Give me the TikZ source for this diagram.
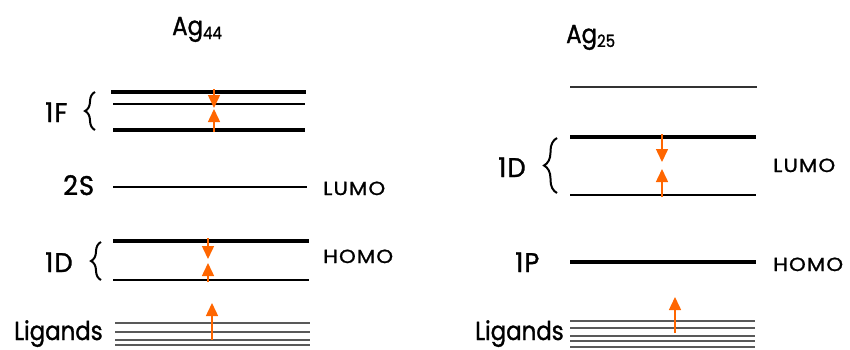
\documentclass[tikz,border=0pt]{standalone}
\usepackage{fontspec}
\setmainfont{Poppins}[FakeStretch=0.88,FakeBold=1.2]
\newfontfamily\sidefont{Poppins}[FakeStretch=1.12,LetterSpace=6,FakeBold=1.2]
\newfontfamily\levfont{Poppins}[FakeStretch=0.95,LetterSpace=4,FakeBold=1.2]
\usetikzlibrary{decorations.pathreplacing,arrows.meta}
\definecolor{orng}{RGB}{255,102,0}
\newcommand{\clsub}[1]{\raisebox{-4pt}{\fontsize{17}{17}\selectfont #1}}
\begin{document}
\begin{tikzpicture}[x=1pt,y=-1pt,
 lbl/.style={anchor=base west,inner sep=0pt,font=\fontsize{26}{26}\selectfont},
 lev/.style={anchor=base west,inner sep=0pt,font=\levfont\fontsize{27}{27}\selectfont},
 side/.style={anchor=base west,inner sep=0pt,font=\sidefont\fontsize{19}{19}\selectfont},
 lvthick/.style={line width=3.5pt},
 lvmid/.style={line width=2.2pt},
 lvthin/.style={line width=1.2pt},
 lig/.style={line width=1.5pt,black!65},
 excite/.style={orng,line width=1.5pt,-{Triangle[length=13pt,width=12pt]}},
 brc/.style={decorate,decoration={brace,amplitude=#1},line width=2pt}]
\useasboundingbox (0,0) rectangle (850,349);
% titles
\node[lbl] (t44) at (172,35) {Ag\clsub{44}};
\node[lbl] (t25) at (566,43) {Ag\clsub{25}};
% ---------- Ag44 ----------
\draw[lvthick] (111,92) -- (306,92);
\draw[lvthin] (113,104) -- (305,104);
\draw[lvthick] (113,130) -- (305,130);
\draw[lvthin] (113,187) -- (307,187);
\draw[lvthick] (113,241) -- (309,241);
\draw[lvmid] (113,280) -- (309,280);
\foreach \yy in {323,332,340,345} \draw[lig] (115,\yy) -- (310,\yy);
\draw[brc=10pt] (95,130) -- (95,92);
\draw[brc=10pt] (101,280) -- (101,242);
\node[lev] (f1) at (45,122) {1F};
\node[lev] (s2) at (63,195) {2S};
\node[lev] (d1a) at (45,272) {1D};
\node[lbl] (liga) at (14,340) {Ligands};
\node[side] (lumoa) at (323,195) {LUMO};
\node[side] (homoa) at (323,263) {HOMO};
\coordinate (a1s) at (214,89); \coordinate (a1e) at (214,108);
\coordinate (a2s) at (214,132); \coordinate (a2e) at (214,109);
\coordinate (a3s) at (208,238); \coordinate (a3e) at (208,259);
\coordinate (a4s) at (208,282); \coordinate (a4e) at (208,263);
\coordinate (a5s) at (212,340); \coordinate (a5e) at (212,303);
\draw[excite] (a1s) -- (a1e);
\draw[excite] (a2s) -- (a2e);
\draw[excite] (a3s) -- (a3e);
\draw[excite] (a4s) -- (a4e);
\draw[excite] (a5s) -- (a5e);
% ---------- Ag25 ----------
\draw[lvthin,black!80] (570,87) -- (757,87);
\draw[lvthick] (570,137) -- (756,137);
\draw[lvmid] (570,195) -- (756,195);
\draw[lvthick] (570,262) -- (756,262);
\foreach \yy in {321,328,336,341,347} \draw[lig] (570,\yy) -- (755,\yy);
\draw[brc=13pt] (557,193) -- (557,138);
\node[lev] (d1b) at (498,177) {1D};
\node[lev] (p1) at (515,272) {1P};
\node[lbl] (ligb) at (475,340) {Ligands};
\node[side] (lumob) at (773,172) {LUMO};
\node[side] (homob) at (773,271) {HOMO};
\coordinate (b1s) at (662,134); \coordinate (b1e) at (662,162);
\coordinate (b2s) at (662,197); \coordinate (b2e) at (662,169);
\coordinate (b3s) at (675,333); \coordinate (b3e) at (675,297);
\draw[excite] (b1s) -- (b1e);
\draw[excite] (b2s) -- (b2e);
\draw[excite] (b3s) -- (b3e);
\end{tikzpicture}
\end{document}
